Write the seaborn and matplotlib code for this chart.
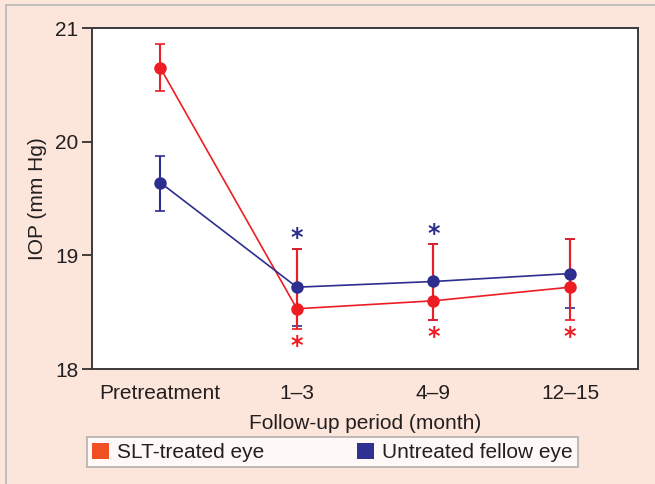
import numpy as np
import pandas as pd
import matplotlib
matplotlib.use('Agg')
import matplotlib.pyplot as plt
import seaborn as sns
from matplotlib.patches import Patch
from matplotlib.lines import Line2D

# datos
periodos = ['Pretreatment', '1\u20133', '4\u20139', '12\u201315']
slt_media = [20.65, 18.53, 18.60, 18.72]
slt_inf = [20.45, 18.35, 18.43, 18.43]
slt_sup = [20.86, 19.06, 19.10, 19.14]
fel_media = [19.64, 18.72, 18.77, 18.84]
fel_inf = [19.39, 18.38, 18.43, 18.54]
fel_sup = [19.87, 19.06, 19.10, 19.14]
# asteriscos de significancia
slt_sig = [False, True, True, True]
fel_sig = [False, True, True, False]

rojo = '#EE1D24'
azul = '#2E2E8F'
fondo = '#FCE5DA'

sns.set_style('ticks')
plt.rcParams['font.family'] = ['Liberation Sans', 'DejaVu Sans']

df = pd.DataFrame({
    'periodo': periodos * 2,
    'x': list(range(len(periodos))) * 2,
    'iop': slt_media + fel_media,
    'grupo': ['SLT-treated eye'] * 4 + ['Untreated fellow eye'] * 4,
})

fig = plt.figure(figsize=(6.55, 4.84), dpi=100, facecolor=fondo)
ax = fig.add_axes([0.1405, 0.2376, 0.834, 0.7044])
ax.set_facecolor('white')

x = np.arange(len(periodos))
# barras de error (azul debajo del rojo)
ax.errorbar(x, fel_media, yerr=[np.subtract(fel_media, fel_inf), np.subtract(fel_sup, fel_media)],
            fmt='none', ecolor=azul, elinewidth=1.5, capsize=3.5, capthick=1.2, zorder=2)
ax.errorbar(x, slt_media, yerr=[np.subtract(slt_media, slt_inf), np.subtract(slt_sup, slt_media)],
            fmt='none', ecolor=rojo, elinewidth=1.5, capsize=3.5, capthick=1.2, zorder=3)

sns.lineplot(data=df, x='x', y='iop', hue='grupo', palette=[rojo, azul],
             marker='o', markersize=9, markeredgewidth=0, linewidth=1.2,
             legend=False, ax=ax, zorder=4)

for i in range(len(periodos)):
    if fel_sig[i]:
        ax.text(x[i], fel_sup[i] + 0.09, '*', color=azul, fontsize=17, ha='center', va='center',
                fontweight='bold', family='DejaVu Sans')
    if slt_sig[i]:
        ax.text(x[i], slt_inf[i] - 0.15, '*', color=rojo, fontsize=17, ha='center', va='center',
                fontweight='bold', family='DejaVu Sans')

ax.set_xlim(-0.5, 3.5)
ax.set_ylim(18, 21)
ax.set_yticks([18, 19, 20, 21])
ax.set_xticks(x)
ax.set_xticklabels(periodos)
ax.tick_params(axis='x', length=0, pad=11, labelsize=15, colors='#231F20')
ax.tick_params(axis='y', length=7, width=1.2, pad=3, labelsize=15, colors='#231F20')
for s in ax.spines.values():
    s.set_color('#3A3A3A')
    s.set_linewidth(1.4)
ax.set_xlabel('Follow-up period (month)', fontsize=15, color='#231F20', labelpad=8)
ax.set_ylabel('IOP (mm Hg)', fontsize=15, color='#231F20', labelpad=6)

# leyenda
handles = [Patch(facecolor='#F04E23', edgecolor='none'), Patch(facecolor='#2E3192', edgecolor='none')]
leg = fig.legend(handles, ['SLT-treated eye', 'Untreated fellow eye'], ncol=2,
                 loc='lower left', bbox_to_anchor=(87 / 655, 17 / 484, 491 / 655, 31 / 484),
                 mode='expand', frameon=True, fancybox=False, fontsize=15,
                 handlelength=0.8, handleheight=0.8, handletextpad=0.4,
                 columnspacing=5, borderpad=0.25, borderaxespad=0)
leg.get_frame().set_edgecolor('#A0A0A0')
leg.get_frame().set_linewidth(1.2)
for t in leg.get_texts():
    t.set_color('#231F20')

# borde exterior
fig.add_artist(Line2D([6 / 655, 6 / 655], [0, 1 - 5 / 484], transform=fig.transFigure,
                      color='#B8B8B8', linewidth=1.2))
fig.add_artist(Line2D([6 / 655, 1], [1 - 5 / 484, 1 - 5 / 484], transform=fig.transFigure,
                      color='#B8B8B8', linewidth=1.2))

fig.savefig('out.png', dpi=100, facecolor=fondo)
